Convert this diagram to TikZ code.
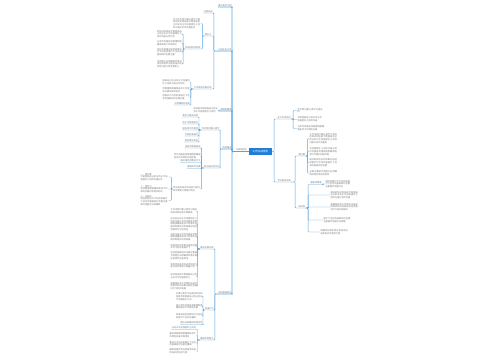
\documentclass[tikz,border=0pt]{standalone}
\usepackage{fontspec}
\newfontfamily\cjk{Noto Sans CJK SC}
\XeTeXlinebreaklocale "zh"
\XeTeXlinebreakskip = 0pt plus 0.5pt
\definecolor{ln}{HTML}{5BA5DE}
\definecolor{tx}{HTML}{7A7A7A}
\definecolor{hub}{HTML}{1F7ED8}
\ExplSyntaxOn
\tl_const:Nn \c_pool_tl {在工作中我们要认真学习相关的知识和技能不断提高自己的业务水平加强团队之间的沟通与合作完善各项管理制度确保各项工作顺利开展并取得良好的效果总结经验教训为今后的发展打下坚实的基础同时也要注重细节把握方向明确目标落实责任积极参加各类培训活动努力提升综合素质认真履行岗位职责严格遵守单位规章制度按时完成领导交办的各项任务}
\NewDocumentCommand\ft{mm}{\tl_range:Nnn \c_pool_tl {#1} {#1+#2-1}}
\ExplSyntaxOff
\tikzset{
  every node/.style={font=\cjk\fontsize{2.2}{2.7}\selectfont, text=tx, inner sep=0.3pt},
  lbl/.style={inner ysep=0.5pt},
  blk/.style={text width=#1, align=left},
  conn/.style={draw=ln, line width=0.45pt, rounded corners=0.8pt},
  trunkc/.style={draw=ln, line width=0.8pt, rounded corners=0.8pt},
  hubn/.style={fill=hub, text=white, minimum width=23pt, minimum height=6.5pt, inner sep=0.5pt,
    font=\cjk\fontsize{2.6}{3}\selectfont}
}
\begin{document}
\begin{tikzpicture}[x=1pt,y=-1pt]
\fill[white] (0,0) rectangle (500,360);
\useasboundingbox (0,0) rectangle (500,360);

% centre
\node[hubn] (c) at (260.5,151.5) {工作总结报告};

% ---------- right side ----------
\node[lbl,anchor=south west] (A) at (277,119) {\ft{1}{6}};
\node[lbl,anchor=south west] (B) at (277,182) {\ft{10}{6}};
\draw[conn] (c.east) -- ++(2,0) |- (A.south west) -- (A.south east);
\draw[conn] (c.east) -- ++(2,0) |- (B.south west) -- (B.south east);

\node[blk=26,anchor=west] (a1) at (297,110.5) {\ft{3}{12}};
\node[blk=25,anchor=west] (a2) at (297,119.5) {\ft{20}{20}};
\node[blk=27,anchor=west] (a3) at (297,128.5) {\ft{40}{21}};
\foreach \n in {a1,a2,a3} \draw[conn] (A.south east) -- ++(2,0) |- (\n.west);

\node[lbl,anchor=south west] (b1) at (298,156) {\ft{5}{3}};
\node[lbl,anchor=south west] (b2) at (298,208) {\ft{15}{3}};
\draw[conn] (B.south east) -- ++(4,0) |- (b1.south west) -- (b1.south east);
\draw[conn] (B.south east) -- ++(4,0) |- (b2.south west) -- (b2.south east);

\node[blk=28.4,anchor=west] (b11) at (309,138.5) {\ft{2}{44}};
\node[blk=28.4,anchor=west] (b12) at (309,151.5) {\ft{30}{33}};
\node[blk=28.4,anchor=west] (b13) at (309,162.5) {\ft{60}{32}};
\node[blk=28.4,anchor=west] (b14) at (309,173) {\ft{90}{21}};
\foreach \n in {b11,b12,b13,b14} \draw[conn] (b1.south east) -- ++(2,0) |- (\n.west);

\node[lbl,anchor=south west] (b21) at (310,184.5) {\ft{44}{5}};
\node[blk=25,anchor=west] (b21t) at (325,184) {\ft{70}{30}};
\node[blk=28,anchor=west] (b22) at (330,195) {\ft{12}{33}};
\node[blk=28,anchor=west] (b23) at (330,207) {\ft{50}{32}};
\node[blk=27,anchor=west] (b24) at (323,220) {\ft{80}{22}};
\node[blk=28,anchor=west] (b25) at (320,232) {\ft{100}{21}};
\draw[conn] (b2.south east) -- ++(2.5,0) |- (b21.south west) -- (b21.south east);
\draw[conn] (b21.south east) -- ++(1,0) |- (b21t.west);
\foreach \n in {b22,b23,b24,b25} \draw[conn] (b2.south east) -- ++(2.5,0) |- (\n.west);

% ---------- left side ----------
\node[lbl,anchor=south east] (L0) at (247.5,151.5) {\ft{30}{5}};
\draw[trunkc] (c.west) -- (L0.south east) -- (L0.south west);

\node[lbl,anchor=south east] (L1) at (232,7) {\ft{7}{6}};
\node[lbl,anchor=south east] (L2) at (232,51) {\ft{25}{6}};
\node[lbl,anchor=south east] (L3) at (232,111) {\ft{48}{5}};
\node[lbl,anchor=south east] (L4) at (232,149) {\ft{66}{4}};
\node[lbl,anchor=south east] (L6) at (232,294) {\ft{84}{6}};
\foreach \n in {L1,L2,L3,L4,L6} \draw[trunkc] (L0.south west) -- ++(-3.5,0) |- (\n.south east) -- (\n.south west);

% L2
\node[lbl,anchor=south east] (c1) at (213,13) {\ft{11}{4}};
\node[lbl,anchor=south east] (c2) at (212,36) {\ft{33}{3}};
\node[lbl,anchor=south east] (c3) at (212,89) {\ft{55}{8}};
\foreach \n in {c1,c2,c3} \draw[conn] (L2.south west) -- ++(-4,0) |- (\n.south east) -- (\n.south west);

\node[blk=27.4,anchor=east] (c2a) at (201,23.5) {\ft{1}{46}};
\node[lbl,anchor=south east] (c2b) at (201,49) {\ft{61}{7}};
\draw[conn] (c2.south west) -- ++(-2,0) |- (c2a.east);
\draw[conn] (c2.south west) -- ++(-2,0) |- (c2b.south east) -- (c2b.south west);

\node[blk=25.4,anchor=east] (d1) at (183,34) {\ft{14}{30}};
\node[blk=25.4,anchor=east] (d2) at (183,43) {\ft{40}{20}};
\node[blk=25.4,anchor=east] (d3) at (183,52) {\ft{64}{30}};
\node[blk=25.4,anchor=east] (d4) at (183,64) {\ft{95}{32}};
\foreach \n in {d1,d2,d3,d4} \draw[conn] (c2b.south west) -- ++(-1.5,0) |- (\n.east);

\node[blk=27.4,anchor=east] (e1) at (190.5,82) {\ft{22}{22}};
\node[blk=27.4,anchor=east] (e2) at (190.5,90) {\ft{46}{20}};
\node[blk=27.4,anchor=east] (e3) at (190.5,97.5) {\ft{72}{22}};
\node[lbl,anchor=south east] (e4) at (190.5,105) {\ft{99}{7}};
\foreach \n in {e1,e2,e3} \draw[conn] (c3.south west) -- ++(-2.5,0) |- (\n.east);
\draw[conn] (c3.south west) -- ++(-2.5,0) |- (e4.south east) -- (e4.south west);

% L3
\node[blk=24.4,anchor=east] (L3a) at (218.5,110.5) {\ft{17}{21}};
\draw[conn] (L3.south west) -- ++(-1,0) |- (L3a.east);

% L4
\node[lbl,anchor=south east] (L4a) at (220,130) {\ft{3}{8}};
\node[lbl,anchor=south east] (L4b) at (220,168) {\ft{37}{7}};
\foreach \n in {L4a,L4b} \draw[conn] (L4.south west) -- ++(-2,0) |- (\n.south east) -- (\n.south west);

\node[lbl,anchor=south east] (f1) at (198.5,117) {\ft{9}{7}};
\node[lbl,anchor=south east] (f2) at (198.5,124) {\ft{28}{7}};
\node[lbl,anchor=south east] (f3) at (198.5,130) {\ft{52}{7}};
\node[lbl,anchor=south east] (f4) at (198.5,136) {\ft{76}{6}};
\node[lbl,anchor=south east] (f5) at (198.5,142) {\ft{104}{6}};
\foreach \n in {f1,f2,f3,f4,f5} \draw[conn] (L4a.south west) -- ++(-2.4,0) |- (\n.south east) -- (\n.south west);

\node[lbl,anchor=south east] (g1) at (201,148) {\ft{18}{7}};
\node[blk=26.4,anchor=east] (g2) at (201,156) {\ft{41}{22}};
\node[lbl,anchor=south east] (g3) at (201,162.5) {\ft{68}{9}};
\node[lbl,anchor=south east] (g4) at (201,168.5) {\ft{86}{6}};
\node[blk=27.4,anchor=east] (g5) at (201,189) {\ft{110}{22}};
\foreach \n in {g1,g3,g4} \draw[conn] (L4b.south west) -- ++(-2,0) |- (\n.south east) -- (\n.south west);
\foreach \n in {g2,g5} \draw[conn] (L4b.south west) -- ++(-2,0) |- (\n.east);

\node[blk=27.4,anchor=east] (h1) at (168.5,177) {一、\ft{5}{3}\\\ft{20}{22}};
\node[blk=27.4,anchor=east] (h2) at (168.5,189) {二、\ft{9}{3}\\\ft{45}{22}};
\node[blk=27.4,anchor=east] (h3) at (168.5,200.5) {三、\ft{13}{3}\\\ft{70}{33}};
\foreach \n in {h1,h2,h3} \draw[conn] (g5.west) -- ++(-1.2,0) |- (\n.east);

% L6
\node[lbl,anchor=south east] (L6a) at (214,249) {\ft{57}{6}};
\node[lbl,anchor=south east] (L6b) at (214.5,310) {\ft{79}{4}};
\node[lbl,anchor=south east] (L6c) at (214,340) {\ft{93}{6}};
\foreach \n in {L6a,L6b,L6c} \draw[conn] (L6.south west) -- ++(-3,0) |- (\n.south east) -- (\n.south west);

\node[blk=26.4,anchor=east] (m1) at (197.5,211.5) {\ft{2}{22}};
\node[blk=26.4,anchor=east] (m2) at (197.5,224) {\ft{24}{56}};
\node[blk=26.4,anchor=east] (m3) at (197.5,237) {\ft{36}{33}};
\node[blk=26.4,anchor=east] (m4) at (197.5,246.5) {\ft{62}{21}};
\node[blk=26.4,anchor=east] (m5) at (197.5,255.5) {\ft{83}{32}};
\node[blk=26.4,anchor=east] (m6) at (197.5,265.5) {\ft{108}{23}};
\node[blk=26.4,anchor=east] (m7) at (197.5,276.5) {\ft{15}{21}};
\node[blk=26.4,anchor=east] (m8) at (197.5,286) {\ft{50}{31}};
\foreach \n in {m1,m2,m3,m4,m5,m6,m7,m8} \draw[conn] (L6a.south west) -- ++(-2.3,0) |- (\n.east);

\node[blk=26.4,anchor=east] (n1) at (203,296.5) {\ft{6}{31}};
\node[blk=26.4,anchor=east] (n2) at (203,306.5) {\ft{39}{22}};
\node[blk=26.4,anchor=east] (n3) at (203,316) {\ft{67}{21}};
\node[lbl,anchor=south east] (n4) at (203,324.5) {\ft{97}{10}};
\foreach \n in {n1,n2,n3} \draw[conn] (L6b.south west) -- ++(-1.7,0) |- (\n.east);
\draw[conn] (L6b.south west) -- ++(-1.7,0) |- (n4.south east) -- (n4.south west);

\node[lbl,anchor=south east] (p1) at (196.5,329.5) {\ft{27}{11}};
\node[blk=26.4,anchor=east] (p2) at (196.5,335.5) {\ft{44}{21}};
\node[blk=26.4,anchor=east] (p3) at (196.5,343.5) {\ft{73}{22}};
\node[blk=26.4,anchor=east] (p4) at (196.5,351.5) {\ft{101}{20}};
\draw[conn] (L6c.south west) -- ++(-2.3,0) |- (p1.south east) -- (p1.south west);
\foreach \n in {p2,p3,p4} \draw[conn] (L6c.south west) -- ++(-2.3,0) |- (\n.east);
\end{tikzpicture}
\end{document}
